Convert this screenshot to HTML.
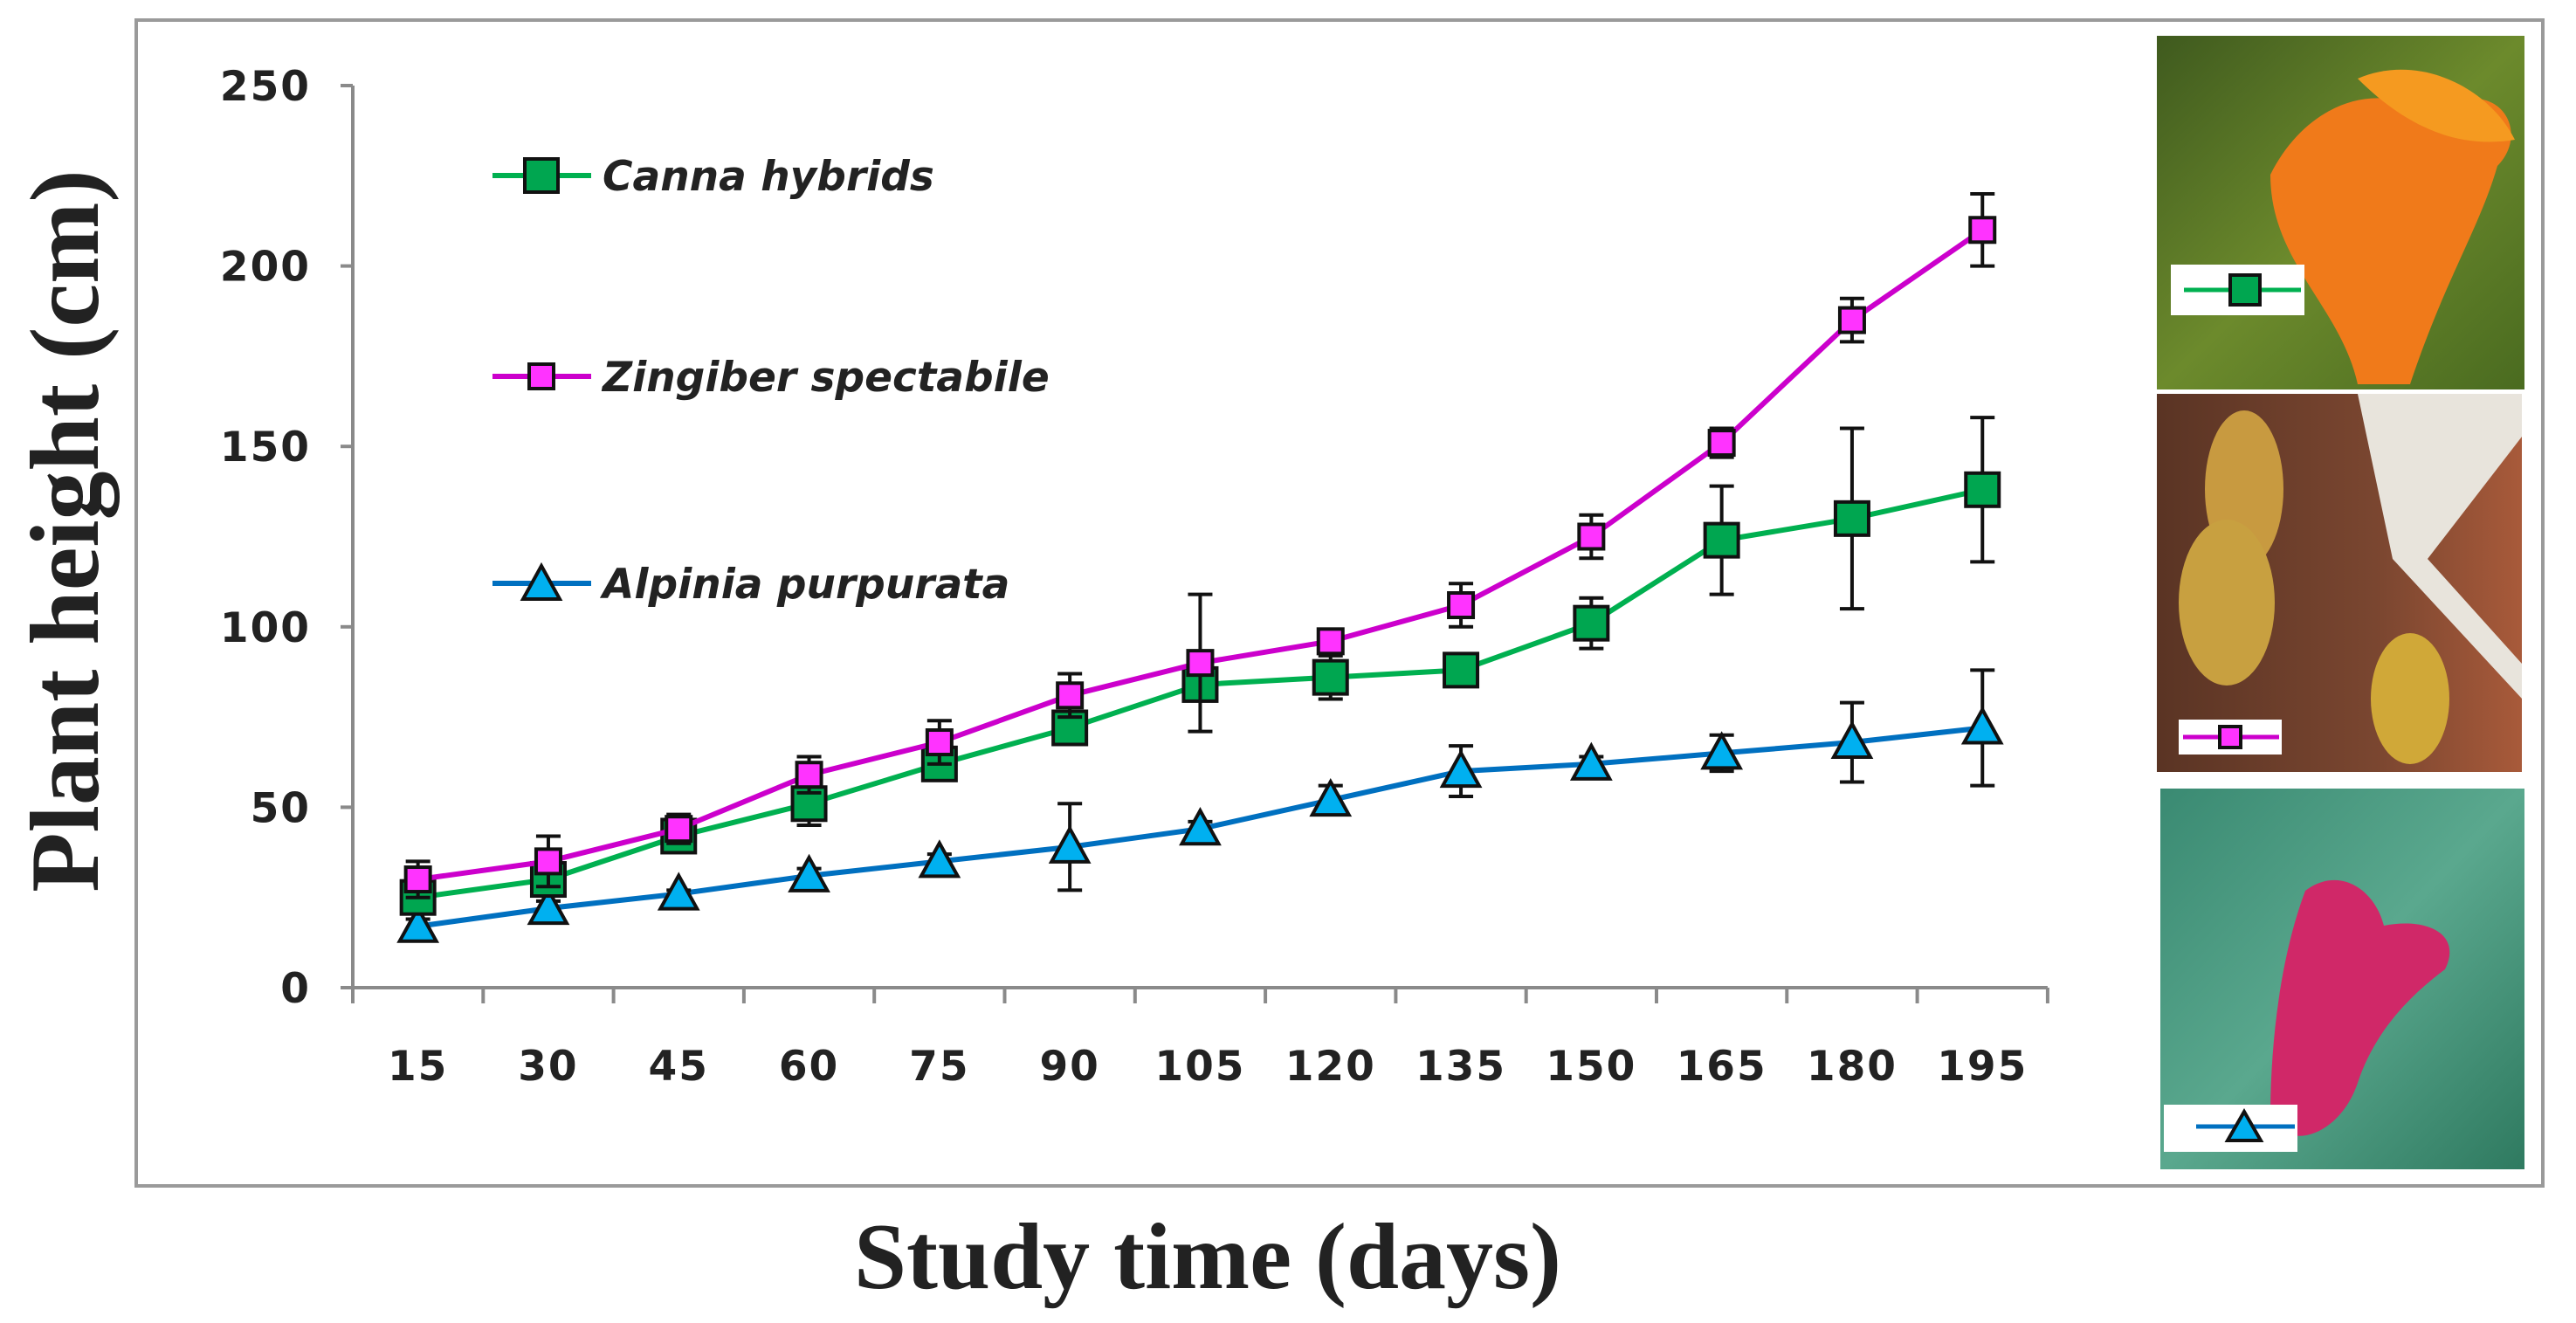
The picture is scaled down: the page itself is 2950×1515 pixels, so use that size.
<!DOCTYPE html>
<html><head><meta charset="utf-8"><style>
html,body{margin:0;padding:0;background:#fff;}
svg{display:block;}
</style></head><body>
<svg id="chart" width="2950" height="1515" viewBox="0 0 2950 1515" xmlns="http://www.w3.org/2000/svg">
<defs>
<linearGradient id="g1" x1="0" y1="0" x2="1" y2="1"><stop offset="0" stop-color="#3f5a1e"/><stop offset="0.5" stop-color="#6c8a2c"/><stop offset="1" stop-color="#4a6b20"/></linearGradient>
<linearGradient id="g2" x1="0" y1="0" x2="1" y2="0"><stop offset="0" stop-color="#5a3424"/><stop offset="0.6" stop-color="#7a4630"/><stop offset="1" stop-color="#a85a3a"/></linearGradient>
<linearGradient id="g3" x1="0" y1="0" x2="1" y2="1"><stop offset="0" stop-color="#3a8a72"/><stop offset="0.5" stop-color="#5aa88e"/><stop offset="1" stop-color="#2f7a60"/></linearGradient>
</defs>
<rect x="156" y="23" width="2756" height="1335" fill="#fff" stroke="#9a9a9a" stroke-width="4"/>
<g id="axes"></g>
<g id="series"></g>
<text x="75" y="608" transform="rotate(-90 75 608)" text-anchor="middle" dominant-baseline="central" font-family="Liberation Serif, serif" font-weight="bold" font-size="112" fill="#222">Plant height (cm)</text>
<text x="1383" y="1475" text-anchor="middle" font-family="Liberation Serif, serif" font-weight="bold" font-size="108" fill="#222">Study time (days)</text>
<g font-family="DejaVu Sans, sans-serif" font-weight="bold" font-style="italic" font-size="47" fill="#222">
<g>
<line x1="564" y1="201" x2="677" y2="201" stroke="#00b050" stroke-width="6"/>
<rect x="601" y="182" width="38" height="38" fill="#00a650" stroke="#111" stroke-width="4"/>
<text x="690" y="218">Canna hybrids</text></g>
<g>
<line x1="564" y1="431" x2="677" y2="431" stroke="#cc00cc" stroke-width="6"/>
<rect x="606" y="417" width="28" height="28" fill="#ff33ff" stroke="#111" stroke-width="4"/>
<text x="690" y="448">Zingiber spectabile</text></g>
<g>
<line x1="564" y1="668" x2="677" y2="668" stroke="#0070c0" stroke-width="6"/>
<polygon points="620,648 641,686 599,686" fill="#00b0f0" stroke="#111" stroke-width="4"/>
<text x="690" y="685">Alpinia purpurata</text></g>
</g>
<g>
<rect x="2470" y="41" width="421" height="405" fill="url(#g1)"/>
<path d="M2600 200 C2640 120 2720 90 2780 130 C2860 80 2900 150 2860 190 C2840 260 2800 320 2760 440 L2700 440 C2680 350 2600 300 2600 200Z" fill="#f07a1a"/>
<path d="M2700 90 C2770 60 2850 100 2880 160 C2820 170 2760 150 2700 90Z" fill="#f59a20"/>
<rect x="2486" y="303" width="153" height="58" fill="#fff"/>
<line x1="2501" y1="332" x2="2635" y2="332" stroke="#00b050" stroke-width="5"/>
<rect x="2554" y="315" width="34" height="34" fill="#00a650" stroke="#111" stroke-width="4"/>
</g>
<g>
<rect x="2470" y="451" width="418" height="433" fill="url(#g2)"/>
<ellipse cx="2570" cy="560" rx="45" ry="90" fill="#c89a40"/>
<ellipse cx="2550" cy="690" rx="55" ry="95" fill="#c8a040"/>
<ellipse cx="2760" cy="800" rx="45" ry="75" fill="#d0a838"/>
<path d="M2700 451 L2888 451 L2888 500 L2780 640 L2888 760 L2888 800 L2740 640Z" fill="#e8e4dc"/>
<rect x="2495" y="824" width="118" height="40" fill="#fff"/>
<line x1="2500" y1="844" x2="2610" y2="844" stroke="#cc00cc" stroke-width="5"/>
<rect x="2542" y="832" width="24" height="24" fill="#ff33ff" stroke="#111" stroke-width="4"/>
</g>
<g>
<rect x="2474" y="903" width="417" height="436" fill="url(#g3)"/>
<path d="M2640 1020 C2680 990 2720 1020 2730 1060 C2780 1050 2820 1070 2800 1110 C2760 1140 2720 1180 2700 1240 C2680 1300 2620 1320 2600 1280 C2600 1200 2610 1100 2640 1020Z" fill="#d02868"/>
<rect x="2478" y="1265" width="153" height="54" fill="#fff"/>
<line x1="2515" y1="1290" x2="2628" y2="1290" stroke="#0070c0" stroke-width="5"/>
<polygon points="2570,1273 2589,1306 2551,1306" fill="#00b0f0" stroke="#111" stroke-width="4"/>
</g>
</svg>
<script>
const days = [15,30,45,60,75,90,105,120,135,150,165,180,195];
const yTicks = [0,50,100,150,200,250];
const cannaVals = [25,30,42,51,62,72,84,86,88,101,124,130,138];
const cannaErr = [3,4,2,6,3,4,4,6,4,7,15,25,20];
const zingVals = [30,35,44,59,68,81,90,96,106,125,151,185,210];
const zingErr = [5,7,4,5,6,6,19,3,6,6,4,6,10];
const alpVals = [17,22,26,31,35,39,44,52,60,62,65,68,72];
const alpErr = [2,2,1,2,2,12,2,4,7,2,5,11,16];

const NS = 'http://www.w3.org/2000/svg';
const X0 = 404, STEP = 149.3, Y0 = 1131, YTOP = 98, YMAX = 250;
function xPos(i){ return X0 + STEP*(i+0.5); }
function yPos(v){ return Y0 - (Y0-YTOP)*v/YMAX; }
function mk(tag, attrs, parent){ const e=document.createElementNS(NS,tag); for(const k in attrs) e.setAttribute(k,attrs[k]); parent.appendChild(e); return e; }

const axes = document.getElementById('axes');
const yl = mk('line',{x1:X0,y1:YTOP,x2:X0,y2:Y0,stroke:'#8a8a8a','stroke-width':4},axes);


const xEnd = X0 + STEP*days.length;
const xl = mk('line',{x1:X0,y1:Y0,x2:xEnd,y2:Y0,stroke:'#8a8a8a','stroke-width':4},axes);


yTicks.forEach(v=>{
  const y=yPos(v);
  mk('line',{x1:X0-14,y1:y,x2:X0,y2:y,stroke:'#8a8a8a','stroke-width':4},axes);
  const t=mk('text',{x:356,y:y+17,'text-anchor':'end','font-family':'DejaVu Sans, sans-serif','font-weight':'bold','font-size':47,'letter-spacing':2,fill:'#222'},axes);
  t.textContent=v;
  
  
});
for(let i=0;i<=days.length;i++){
  const x=X0+STEP*i;
  mk('line',{x1:x,y1:Y0,x2:x,y2:Y0+18,stroke:'#8a8a8a','stroke-width':4},axes);
}
days.forEach((d,i)=>{
  const t=mk('text',{x:xPos(i),y:1237,'text-anchor':'middle','font-family':'DejaVu Sans, sans-serif','font-weight':'bold','font-size':47,'letter-spacing':2,fill:'#222'},axes);
  t.textContent=d;
  
  
});

const sg = document.getElementById('series');
function drawSeries(vals, errs, color, name){
  const g=mk('g',{},sg);
  
  
  const pts=vals.map((v,i)=>xPos(i)+','+yPos(v)).join(' ');
  const pl=mk('polyline',{points:pts,fill:'none',stroke:color,'stroke-width':6},g);
  
  
  return g;
}
function drawErr(g, vals, errs, name){
  vals.forEach((v,i)=>{
    const x=xPos(i), y1=yPos(v+errs[i]), y2=yPos(v-errs[i]);
    const eg=mk('g',{stroke:'#111','stroke-width':4},g);
    
    
    mk('line',{x1:x,y1:y1,x2:x,y2:y2},eg);
    mk('line',{x1:x-14,y1:y1,x2:x+14,y2:y1},eg);
    mk('line',{x1:x-14,y1:y2,x2:x+14,y2:y2},eg);
  });
}
const gA=drawSeries(alpVals,alpErr,'#0070c0','alpinia');
const gC=drawSeries(cannaVals,cannaErr,'#00b050','canna');
const gZ=drawSeries(zingVals,zingErr,'#cc00cc','zingiber');
drawErr(gA,alpVals,alpErr,'alpinia');
drawErr(gC,cannaVals,cannaErr,'canna');
drawErr(gZ,zingVals,zingErr,'zingiber');
alpVals.forEach((v,i)=>{
  const x=xPos(i), y=yPos(v);
  const p=mk('polygon',{points:`${x},${y-21} ${x+21},${y+17} ${x-21},${y+17}`,fill:'#00b0f0',stroke:'#111','stroke-width':4},gA);
  
  
});
cannaVals.forEach((v,i)=>{
  const x=xPos(i), y=yPos(v);
  const r=mk('rect',{x:x-19,y:y-19,width:38,height:38,fill:'#00a650',stroke:'#111','stroke-width':4},gC);
  
  
});
zingVals.forEach((v,i)=>{
  const x=xPos(i), y=yPos(v);
  const r=mk('rect',{x:x-14,y:y-14,width:28,height:28,fill:'#ff33ff',stroke:'#111','stroke-width':4},gZ);
  
  
});
</script>
</body></html>
